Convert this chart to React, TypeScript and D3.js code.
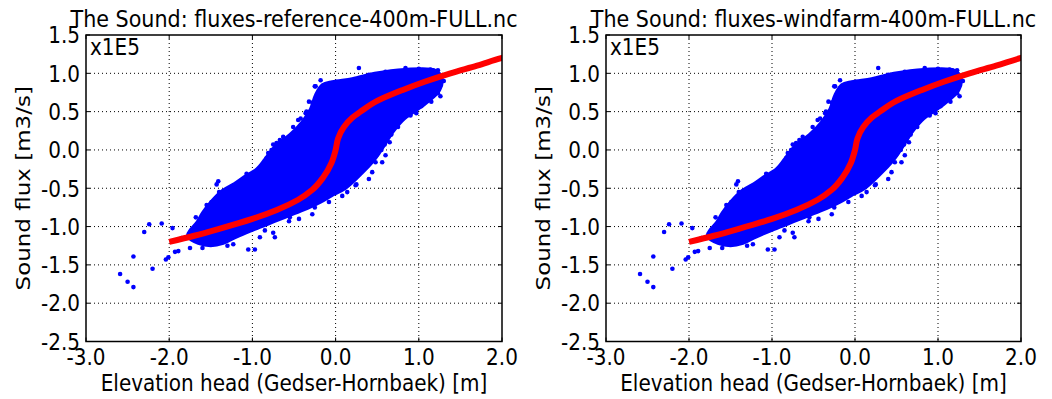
import React from 'react';
import * as d3 from 'd3';

const panelTitles = [
  'The Sound: fluxes-reference-400m-FULL.nc',
  'The Sound: fluxes-windfarm-400m-FULL.nc',
];
const xTicks = [-3, -2, -1, 0, 1, 2];
const yTicks = [-2.5, -2, -1.5, -1, -0.5, 0, 0.5, 1, 1.5];
const xLabel = 'Elevation head (Gedser-Hornbaek) [m]';
const yLabel = 'Sound flux [m3/s]';
const scaleNote = 'x1E5';

// dense core of the scatter cloud (outline)
const cloudOutline: [number, number][] = [
  [-1.78, -1.12], [-1.75, -1.05], [-1.67, -0.95], [-1.6, -0.82], [-1.5, -0.68],
  [-1.36, -0.53], [-1.22, -0.44], [-1.1, -0.35], [-0.95, -0.25], [-0.85, -0.12],
  [-0.78, -0.02], [-0.71, 0.07], [-0.55, 0.2], [-0.4, 0.37], [-0.3, 0.54],
  [-0.24, 0.72], [-0.16, 0.85], [-0.04, 0.89], [0.2, 0.93], [0.47, 1.0],
  [0.83, 1.05], [1.2, 1.04], [1.28, 0.93], [1.25, 0.78],
  [1.1, 0.62], [0.95, 0.5], [0.83, 0.41], [0.7, 0.25], [0.58, 0.05],
  [0.52, -0.05], [0.45, -0.15], [0.32, -0.3], [0.12, -0.5], [-0.05, -0.6],
  [-0.18, -0.68], [-0.42, -0.8], [-0.7, -0.92], [-0.98, -1.04], [-1.2, -1.14],
  [-1.35, -1.22], [-1.5, -1.25], [-1.65, -1.22],
];

// individual points around the cloud
const scatterPoints: [number, number][] = [
  [-2.59, -1.62], [-2.5, -1.72], [-2.43, -1.79], [-2.43, -1.39], [-2.3, -1.07],
  [-2.24, -0.97], [-2.09, -0.96], [-2.2, -1.55], [-1.96, -1.02], [-2.04, -1.43],
  [-2.01, -1.4], [-1.93, -1.33], [-1.89, -1.32], [-1.75, -1.28], [-1.73, -1.07],
  [-1.62, -1.03], [-1.41, -0.41], [-1.43, -0.45], [-1.4, -0.55], [-1.07, -0.31],
  [-0.99, -0.32], [-1.05, -1.3], [-0.97, -1.3], [-0.73, -1.14], [-0.44, -0.9],
  [0.14, -0.55], [0.4, -0.38], [0.48, -0.16], [0.6, -0.07],
  [-0.24, 0.83], [-0.18, 0.91], [-0.04, 0.87], [0.1, 0.89], [0.2, 0.91],
  [0.28, 1.07], [0.22, 0.78], [-0.42, 0.41], [-0.55, 0.17], [-0.71, 0.09],
  [-0.77, 0.0], [-0.81, -0.04], [0.84, 1.07], [1.14, 1.05], [1.17, 1.04],
  [1.23, 1.04], [1.3, 0.9], [1.26, 0.7], [1.19, 0.76], [1.13, 0.67],
  [1.08, 0.66], [0.97, 0.48], [0.55, 0.0],
  [-0.35, 0.5], [-0.28, 0.62], [-1.25, -0.48], [-1.55, -0.72], [-1.68, -0.88],
  [-1.85, -1.15], [-1.6, -1.28], [-1.3, -1.25], [-0.85, -1.05], [-0.55, -0.88],
  [-0.25, -0.75], [0.25, -0.45], [0.65, 0.1], [0.75, 0.3], [0.9, 0.45],
  [0.6, 1.02], [0.4, 0.98], [1.0, 1.06],
  [-0.25, 0.83], [-0.18, 0.8], [0.0, 0.87], [0.12, 0.85], [0.22, 0.91],
  [0.26, 0.8], [-0.12, 0.67], [-0.32, 0.63], [-0.36, 0.48], [-0.45, 0.39],
  [-0.51, 0.3], [-0.63, 0.17], [-0.67, 0.13], [-0.75, 0.07], [-0.83, -0.11],
  [1.23, 0.74], [1.15, 0.63], [1.03, 0.57], [1.07, 0.7], [0.67, 0.2],
  [0.59, 0.07], [0.49, -0.07],
  [-1.55, -0.79], [-1.49, -0.68], [-1.35, -0.64], [-1.23, -0.49], [-1.17, -0.44],
  [-1.07, -0.42], [-0.95, -0.31], [-0.87, -0.18], [-0.79, -0.07], [-1.67, -1.17],
  [-1.43, -1.21], [-1.23, -1.23], [-0.91, -1.14], [-0.75, -1.08], [-0.56, -0.93],
  [-0.28, -0.84], [-0.08, -0.68], [0.08, -0.6], [0.24, -0.46], [0.44, -0.29],
  [0.56, -0.16],
];

// red fitted curve
const fitX = [-2.0, -1.7, -1.4, -1.0, -0.7, -0.45, -0.28, -0.15, -0.05, 0.0, 0.03, 0.1, 0.2, 0.3, 0.5, 0.8, 1.07, 1.38, 1.7, 2.0, 2.1];
const fitY = [-1.2, -1.12, -1.03, -0.9, -0.78, -0.65, -0.52, -0.36, -0.17, 0.0, 0.15, 0.3, 0.42, 0.5, 0.64, 0.78, 0.89, 1.0, 1.1, 1.2, 1.23];

const FONT = 'DejaVu Sans, sans-serif';
const SY = 1.15; // vertical stretch of the text seen in the picture

function fmt(v: number) {
  return v.toFixed(1);
}

function T({ x, y, size = 20, anchor = 'start', dy, children }: { x: number; y: number; size?: number; anchor?: string; dy?: string; children: React.ReactNode }) {
  return (
    <text transform={`translate(${x},${y}) scale(1,${SY})`} dy={dy} textAnchor={anchor} fontFamily={FONT} fontSize={size} fill="#000">
      {children}
    </text>
  );
}

function Panel({ idx, left, right, top, bottom, title }: { idx: number; left: number; right: number; top: number; bottom: number; title: string }) {
  const x = d3.scaleLinear().domain([-3, 2]).range([left, right]);
  const y = d3.scaleLinear().domain([-2.5, 1.5]).range([bottom, top]);
  const area = d3.line<[number, number]>().x(d => x(d[0])).y(d => y(d[1])).curve(d3.curveCatmullRomClosed.alpha(0.5));
  const fit = d3.line<number>().x(d => x(d)).y((d, i) => y(fitY[i])).curve(d3.curveMonotoneY);
  const cx = (left + right) / 2;
  const cy = (top + bottom) / 2;
  const clipId = `clip${idx}`;
  return (
    <g>
      <defs>
        <clipPath id={clipId}>
          <rect x={left} y={top} width={right - left} height={bottom - top} />
        </clipPath>
      </defs>
      {xTicks.slice(1, -1).map(t => (
        <line key={'gx' + t} x1={x(t)} x2={x(t)} y1={top} y2={bottom} stroke="#000" strokeWidth={1} strokeDasharray="1,3" />
      ))}
      {yTicks.slice(1, -1).map(t => (
        <line key={'gy' + t} x1={left} x2={right} y1={y(t)} y2={y(t)} stroke="#000" strokeWidth={1} strokeDasharray="1,3" />
      ))}
      <g clipPath={`url(#${clipId})`}>
        <path d={area(cloudOutline) || ''} fill="#0000ff" stroke="#0000ff" strokeWidth={3} strokeLinejoin="round" />
        {scatterPoints.map((p, i) => (
          <circle key={i} cx={x(p[0])} cy={y(p[1])} r={2.3} fill="#0000ff" />
        ))}
        <path d={fit(fitX) || ''} fill="none" stroke="#ff0000" strokeWidth={6} />
      </g>
      {xTicks.map(t => (
        <g key={'tx' + t}>
          <line x1={x(t)} x2={x(t)} y1={bottom} y2={bottom - 4} stroke="#000" strokeWidth={1} />
          <line x1={x(t)} x2={x(t)} y1={top} y2={top + 4} stroke="#000" strokeWidth={1} />
          <T x={x(t)} y={365} anchor="middle">{fmt(t)}</T>
        </g>
      ))}
      {yTicks.map(t => (
        <g key={'ty' + t}>
          <line x1={left} x2={left + 4} y1={y(t)} y2={y(t)} stroke="#000" strokeWidth={1} />
          <line x1={right} x2={right - 4} y1={y(t)} y2={y(t)} stroke="#000" strokeWidth={1} />
          <T x={left - 6} y={y(t)} dy="0.36em" anchor="end">{fmt(t)}</T>
        </g>
      ))}
      <rect x={left} y={top} width={right - left} height={bottom - top} fill="none" stroke="#000" strokeWidth={1.5} />
      <T x={left + 4} y={55}>{scaleNote}</T>
      <T x={cx} y={27} size={20.7} anchor="middle">{title}</T>
      <T x={cx} y={391} anchor="middle">{xLabel}</T>
      <text transform={`translate(${left - 56},${cy}) scale(1,${SY}) rotate(-90)`} textAnchor="middle" fontFamily={FONT} fontSize={20} fill="#000">{yLabel}</text>
    </g>
  );
}

export default function App() {
  return (
    <svg width={1052} height={399} style={{ position: 'absolute', left: 0, top: 0, background: '#fff' }}>
      <rect width={1052} height={399} fill="#fff" />
      <Panel idx={0} left={86} right={502} top={35} bottom={341.5} title={panelTitles[0]} />
      <Panel idx={1} left={606} right={1021} top={35} bottom={341.5} title={panelTitles[1]} />
    </svg>
  );
}
